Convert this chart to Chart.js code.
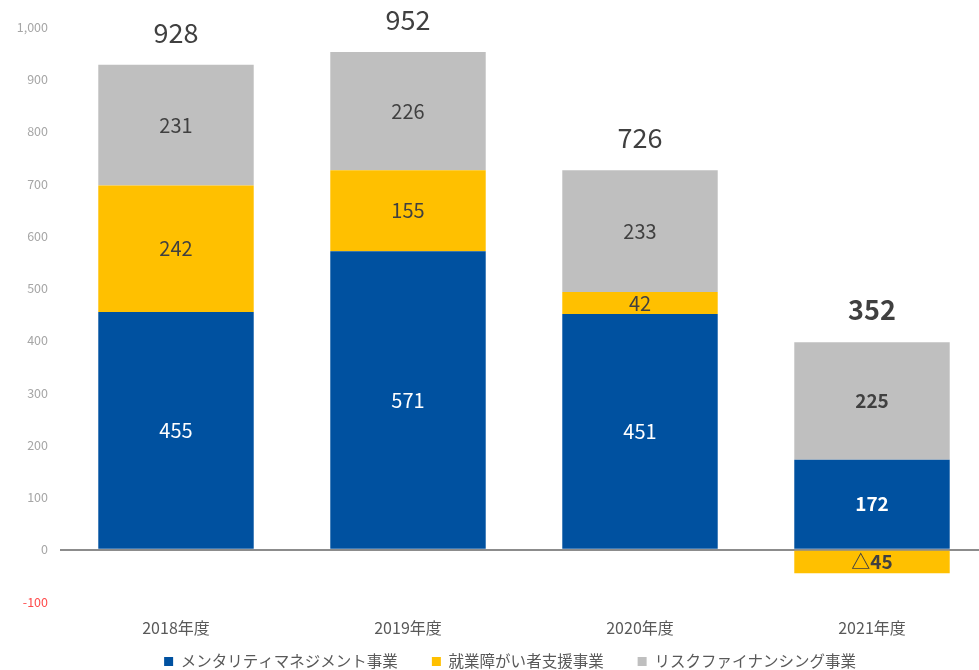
<!DOCTYPE html>
<html>
<head>
<meta charset="utf-8">
<script src="https://cdn.jsdelivr.net/npm/chart.js@4.4.0/dist/chart.umd.min.js"></script>
<style>
  body { margin: 0; background: #fff; overflow: hidden; }
  #wrap { width: 990px; height: 670px; }
</style>
</head>
<body>
<div id="wrap"><canvas id="salesChart" width="990" height="670"></canvas></div>
<script>
// 区分・系列データ
const categories = ['2018年度', '2019年度', '2020年度', '2021年度'];
const seriesNames = ['メンタリティマネジメント事業', '就業障がい者支援事業', 'リスクファイナンシング事業'];
const mentality = [455, 571, 451, 172];
const shugyo = [242, 155, 42, -45];
const risk = [231, 226, 233, 225];
const totals = [928, 952, 726, 352];
const yMin = -100;
const yMax = 1000;
const yStep = 100;

const FONT = '"Noto Sans CJK JP", "Noto Sans", sans-serif';
const colors = ['#0051a0', '#ffc000', '#bfbfbf'];
const LEGEND_PAD = 34;
const LEGEND_SPACE = 16;  // レイアウト上で凡例に確保する高さ
const LEGEND_Y = 663;     // 凡例の中心
const LEGEND_SHIFT = 16;  // 凡例を少し右へ

// バー内のラベル
const segmentLabels = {
    id: 'segmentLabels',
    afterDatasetsDraw(chart) {
        const ctx = chart.ctx;
        ctx.save();
        ctx.textAlign = 'center';
        ctx.textBaseline = 'middle';
        chart.data.datasets.forEach(function(ds, di) {
            const meta = chart.getDatasetMeta(di);
            meta.data.forEach(function(bar, i) {
                const v = ds.data[i];
                const last = i === categories.length - 1;
                ctx.font = (last ? 'bold 19px ' : '20px ') + FONT;
                ctx.fillStyle = di === 0 ? '#ffffff' : '#404040';
                const txt = v < 0 ? '△' + Math.abs(v) : String(v);
                ctx.fillText(txt, bar.x, (bar.y + bar.base) / 2);
            });
        });
        ctx.restore();
    }
};

// 合計ラベル
const totalLabels = {
    id: 'totalLabels',
    afterDatasetsDraw(chart) {
        const ctx = chart.ctx;
        const meta = chart.getDatasetMeta(2);
        ctx.save();
        ctx.textAlign = 'center';
        ctx.textBaseline = 'middle';
        ctx.fillStyle = '#404040';
        meta.data.forEach(function(bar, i) {
            const last = i === categories.length - 1;
            ctx.font = (last ? 'bold ' : '') + '27px ' + FONT;
            ctx.fillText(String(totals[i]), bar.x, bar.y - 32);
        });
        ctx.restore();
    }
};

// 凡例の位置調整（横の間隔を保ったまま縦を詰める）
const legendTweak = {
    id: 'legendTweak',
    beforeLayout(chart) {
        const lg = chart.legend;
        if (!lg || lg._tweaked) return;
        const origFit = lg.fit;
        lg.fit = function() {
            origFit.call(this);
            if (this.isHorizontal()) this.height = LEGEND_SPACE;
        };
        lg._tweaked = true;
    },
    afterLayout(chart) {
        const lg = chart.legend;
        if (!lg) return;
        const itemH = lg.options.labels.font.size * 1.2;
        lg.top = LEGEND_Y - LEGEND_PAD - itemH / 2;
        lg.bottom = chart.height;
        lg.height = lg.bottom - lg.top;
        lg.left += LEGEND_SHIFT;
        lg.right += LEGEND_SHIFT;
    }
};

const ctx = document.getElementById('salesChart').getContext('2d');
new Chart(ctx, {
    type: 'bar',
    data: {
        labels: categories,
        datasets: [
            { label: seriesNames[0], data: mentality, backgroundColor: colors[0] },
            { label: seriesNames[1], data: shugyo, backgroundColor: colors[1] },
            { label: seriesNames[2], data: risk, backgroundColor: colors[2] }
        ]
    },
    options: {
        responsive: false,
        animation: false,
        layout: { padding: { top: 27, right: 2, bottom: 0, left: 0 } },
        datasets: {
            bar: { categoryPercentage: 1.0, barPercentage: 0.67 }
        },
        scales: {
            x: {
                stacked: true,
                grid: { display: false, drawTicks: false },
                border: { display: false },
                ticks: {
                    color: '#595959',
                    font: { family: FONT, size: 16, lineHeight: 1 },
                    padding: 18
                }
            },
            y: {
                stacked: true,
                min: yMin,
                max: yMax,
                afterFit: function(scale) { scale.width = 60; },
                border: { display: false },
                grid: {
                    drawTicks: false,
                    color: function(c) { return c.tick && c.tick.value === 0 ? '#8c8c8c' : 'rgba(0,0,0,0)'; },
                    lineWidth: function(c) { return c.tick && c.tick.value === 0 ? 2 : 0; }
                },
                ticks: {
                    stepSize: yStep,
                    padding: 12,
                    font: { family: FONT, size: 12.5 },
                    color: function(c) { return c.tick.value < 0 ? '#ff4b4b' : '#a6a6a6'; },
                    callback: function(v) { return v.toLocaleString('en-US'); }
                }
            }
        },
        plugins: {
            legend: {
                position: 'bottom',
                labels: {
                    boxWidth: 9,
                    boxHeight: 9,
                    padding: LEGEND_PAD,
                    color: '#595959',
                    font: { family: FONT, size: 15.5 }
                }
            },
            tooltip: { enabled: false }
        }
    },
    plugins: [segmentLabels, totalLabels, legendTweak]
});
</script>
</body>
</html>
